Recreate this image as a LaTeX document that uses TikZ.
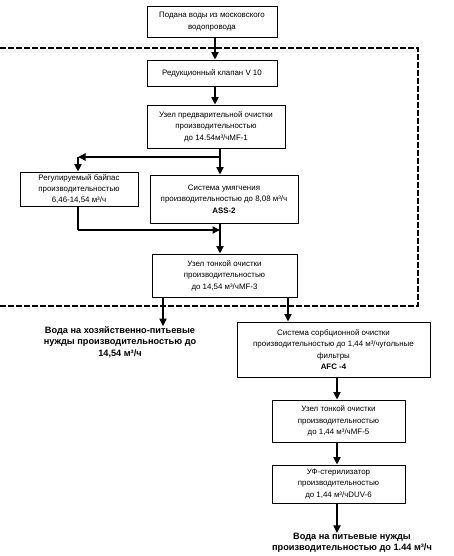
\documentclass[tikz,border=0pt]{standalone}
\usepackage{fontspec}
\setmainfont{Liberation Sans}
\usetikzlibrary{arrows.meta}
\begin{document}
\begin{tikzpicture}[x=1pt,y=-1pt,
  box/.style={draw, line width=0.8pt, align=center, inner sep=0pt,
    font=\fontsize{7.9}{11.4}\selectfont},
  conn/.style={line width=1.8pt, -{Triangle[length=7.5pt,width=7pt]}},
  plain/.style={line width=1.8pt},
  zone/.style={line width=1.8pt, dash pattern=on 6pt off 2pt},
  outtext/.style={align=center, inner sep=0pt, font=\bfseries\fontsize{9.2}{11.5}\selectfont}]
\useasboundingbox (0,0) rectangle (454,556);

% dashed zone
\coordinate (z1) at (0,48);
\coordinate (z2) at (418,48);
\coordinate (z3) at (418,306);
\coordinate (z4) at (0,306);
\draw[zone] (z1) -- (z2) -- (z3) -- (z4);

% boxes
\node[box, minimum width=130pt, minimum height=31pt] (b1) at (212,21.5)
  {Подана воды из московского\\водопровода};
\node[box, minimum width=130pt, minimum height=26pt] (b2) at (212,73)
  {Редукционный клапан V 10};
\node[box, minimum width=138pt, minimum height=43pt] (b3) at (216,126.5)
  {Узел предварительной очистки\\производительностью\\до 14.54м³/чMF-1};
\node[box, minimum width=118pt, minimum height=34pt] (byp) at (79,189)
  {Регулируемый байпас\\производительностью\\6,46-14,54 м³/ч};
\node[box, minimum width=148pt, minimum height=48pt] (soft) at (224,199)
  {Система умягчения\\производительностью до 8,08 м³/ч\\\textbf{ASS-2}};
\node[box, minimum width=145pt, minimum height=43pt] (mf3) at (224.5,275.5)
  {Узел тонкой очистки\\производительностью\\до 14,54 м³/чMF-3};
\node[box, minimum width=193pt, minimum height=55pt] (afc) at (333.5,349.5)
  {Система сорбционной очистки\\производительностью до 1,44 м³/чугольные\\фильтры\\\textbf{AFC -4}};
\node[box, minimum width=133pt, minimum height=42pt] (mf5) at (338.5,421)
  {Узел тонкой очистки\\производительностью\\до 1,44 м³/чMF-5};
\node[box, minimum width=133pt, minimum height=38pt] (duv) at (338.5,484)
  {УФ-стерилизатор\\производительностью\\до 1,44 м³/чDUV-6};

% outputs
\node[outtext] (o1) at (120,342)
  {Вода на хозяйственно-питьевые\\нужды производительностью до\\14,54 м³/ч};
\node[outtext] (o2) at (352,543)
  {Вода на питьевые нужды\\производительностью до 1.44 м³/ч};

% junction coordinates
\coordinate (j1) at (220,157);
\coordinate (j2) at (78,157);
\coordinate (j3) at (78,230);
\coordinate (j4) at (220,230);

% connectors
\draw[conn] (b1.south -| 215,0) -- (b2.north -| 215,0);
\draw[conn] (b2.south -| 215,0) -- (b3.north -| 215,0);
\draw[conn] (b3.south -| j1) -- (soft.north -| j1);
\draw[conn] (j1) -- (j2);
\draw[conn] (j2) -- (byp.north -| j2);
\draw[plain] (byp.south -| j3) -- (j3);
\draw[conn] (j3) -- (j4);
\draw[conn] (soft.south -| j4) -- (mf3.north -| j4);
\draw[conn] (mf3.south -| 163,0) -- (o1.north -| 163,0);
\draw[conn] (mf3.south -| 288,0) -- (afc.north -| 288,0);
\draw[conn] (afc.south -| 337,0) -- (mf5.north -| 337,0);
\draw[conn] (mf5.south -| 337,0) -- (duv.north -| 337,0);
\draw[conn] (duv.south -| 337,0) -- (o2.north -| 337,0);
\end{tikzpicture}
\end{document}
